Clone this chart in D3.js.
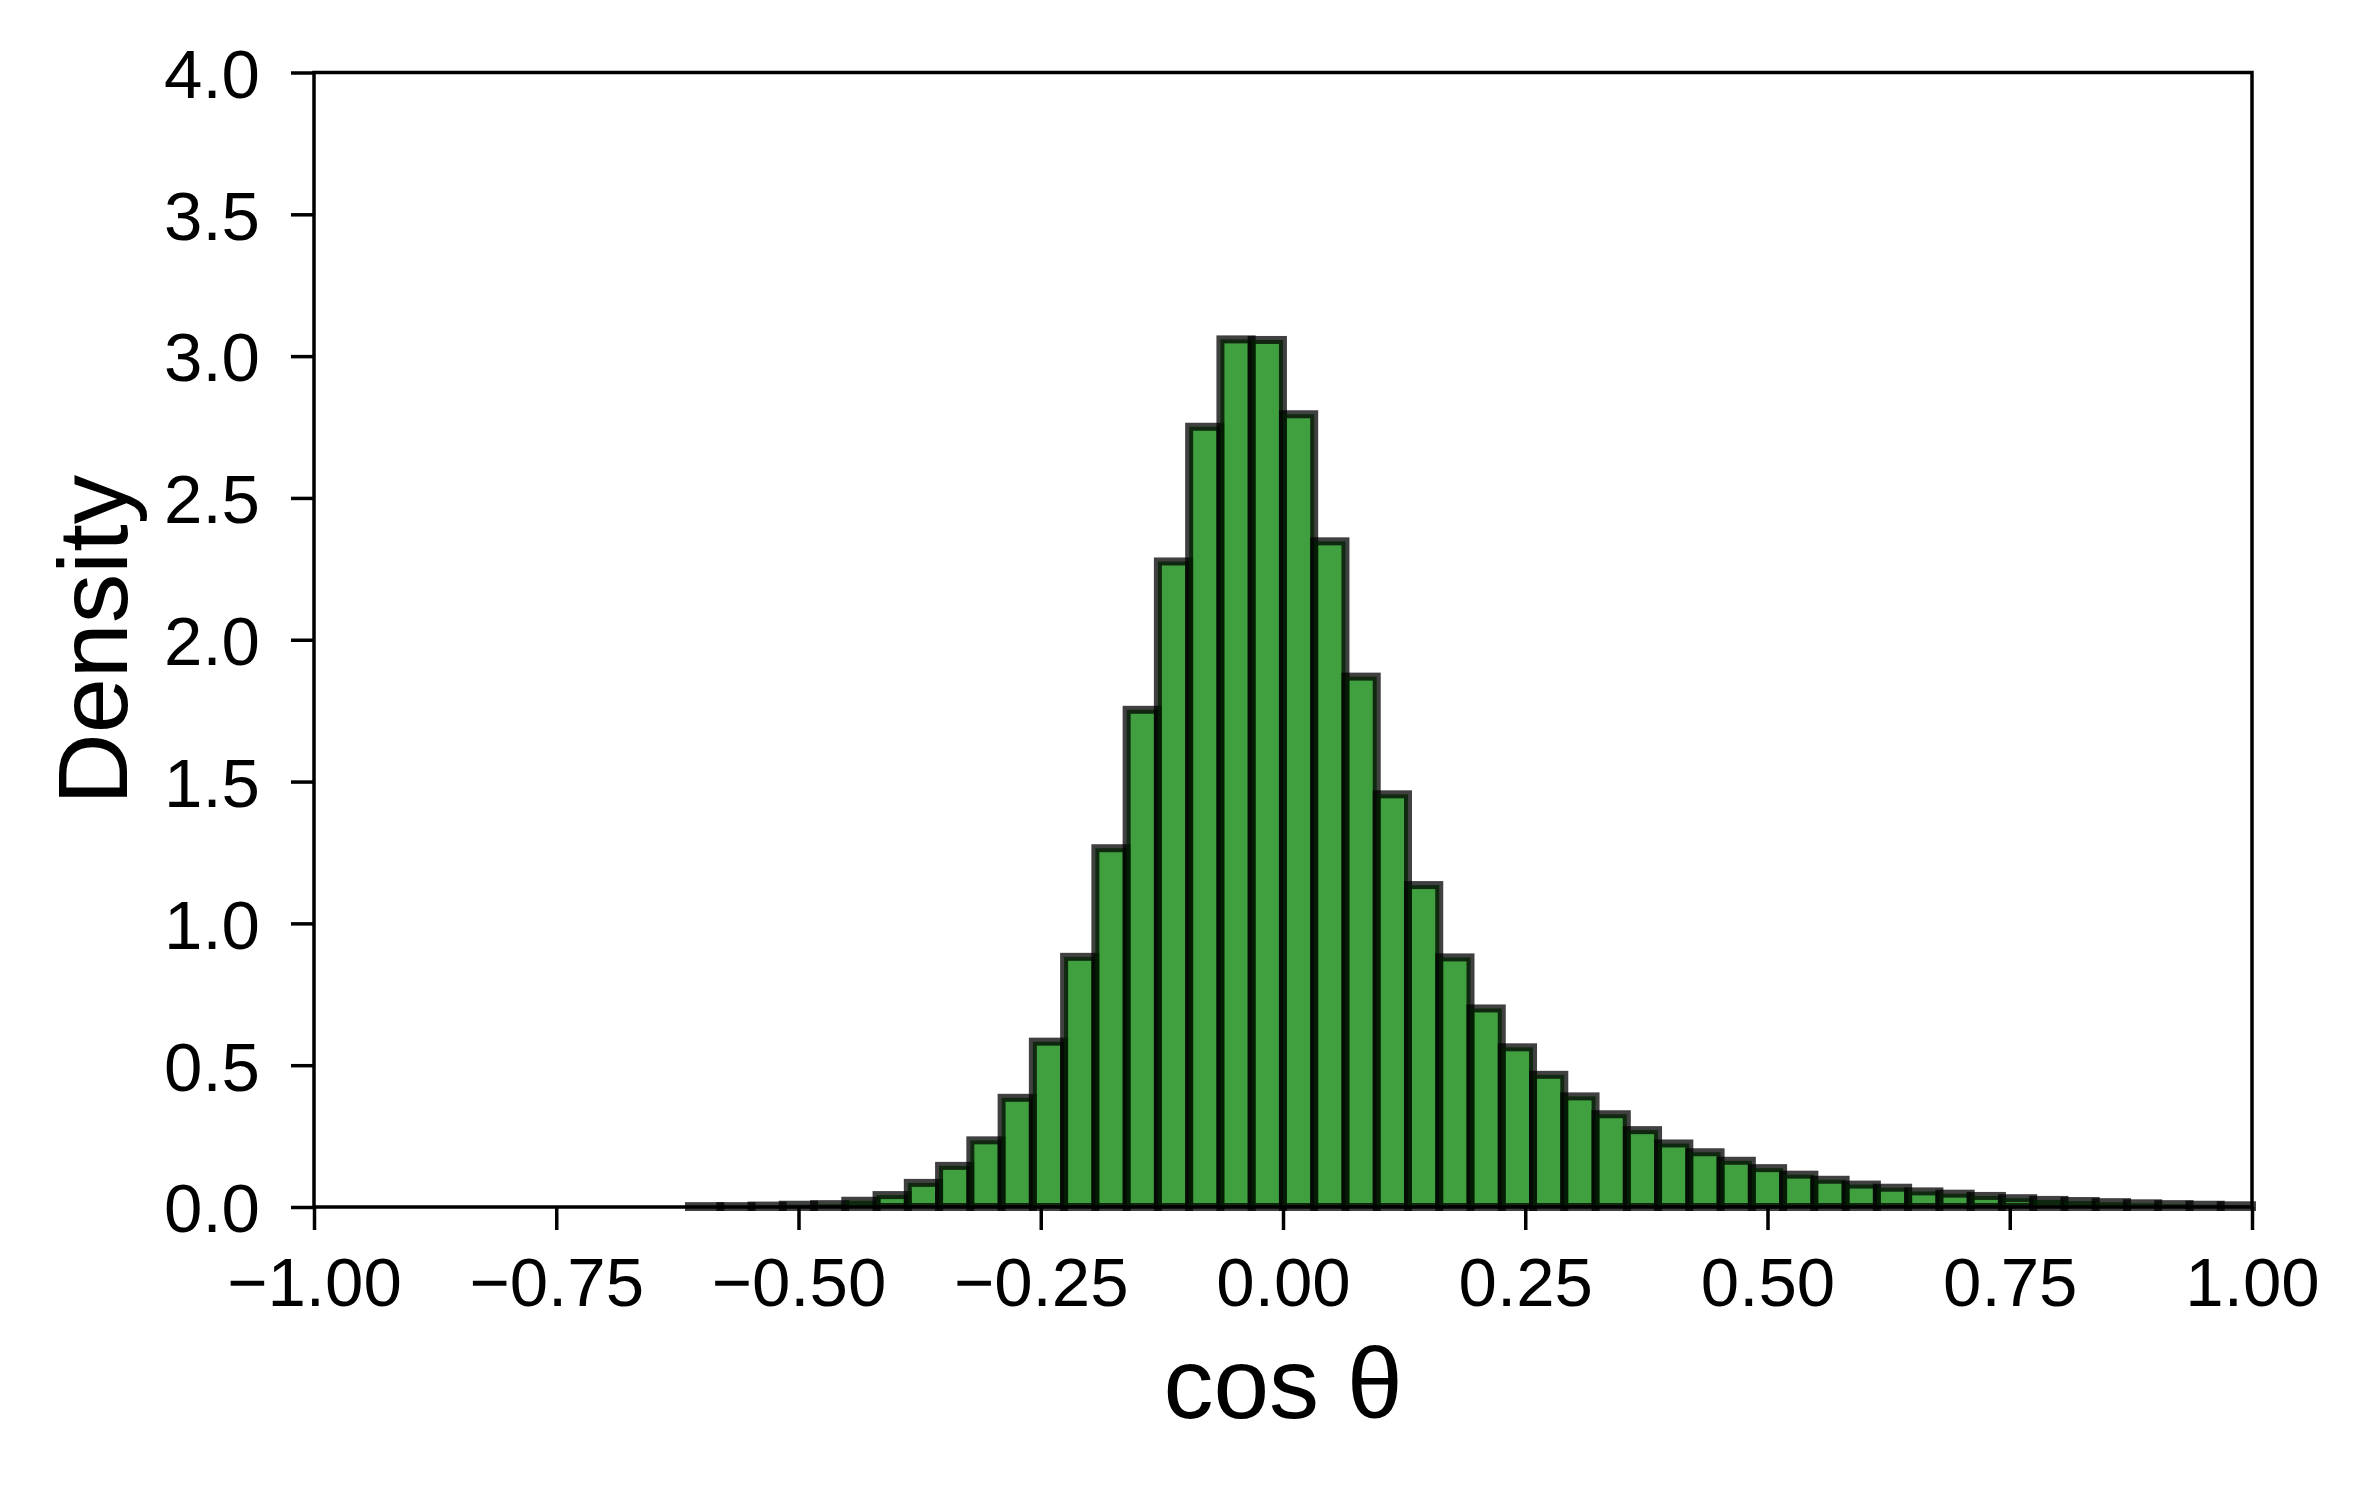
<!DOCTYPE html>
<html>
<head>
<meta charset="utf-8">
<script src="https://cdn.jsdelivr.net/npm/d3@7"></script>
<style>
  body { margin: 0; background: #fff; }
  text { font-family: "Liberation Sans", Arial, sans-serif; fill: #000; }
</style>
</head>
<body>
<div class="hist"></div>
<script>
// histogram of cos(theta), density normalised, 50 equal bins
var binLo = -0.613, binHi = 1.0;
var density = [
    0.003, 0.003, 0.005, 0.008, 0.010, 0.022, 0.042, 0.085, 0.145, 0.235,
    0.385, 0.583, 0.882, 1.265, 1.753, 2.276, 2.751, 3.059, 3.057, 2.795,
    2.347, 1.870, 1.455, 1.135, 0.880, 0.700, 0.563, 0.466, 0.390, 0.327,
    0.271, 0.224, 0.193, 0.163, 0.137, 0.114, 0.096, 0.079, 0.068, 0.055,
    0.047, 0.039, 0.031, 0.025, 0.021, 0.017, 0.013, 0.010, 0.008, 0.006
];
var xTicks = [-1.0, -0.75, -0.5, -0.25, 0.0, 0.25, 0.5, 0.75, 1.0];
var yTicks = [0.0, 0.5, 1.0, 1.5, 2.0, 2.5, 3.0, 3.5, 4.0];
var xLabel = "cos θ", yLabel = "Density";

hist_chart = function () {
    var margin = {
        top: 72.5,
        bottom: 279,
        left: 314,
        right: 116
    }, fullWidth = 2368, fullHeight = 1486
        , width = fullWidth - margin.left - margin.right
        , height = fullHeight - margin.top - margin.bottom;

    var svg = d3.select(".hist").append("svg")
        .attr("width", fullWidth)
        .attr("height", fullHeight);

    var x = d3.scaleLinear().domain([-1, 1]).range([0, width]);
    var y = d3.scaleLinear().domain([0, 4]).range([height, 0]);

    var n = density.length, step = (binHi - binLo) / n;
    var bins = density.map((d, i) => ({ x0: binLo + i * step, x1: binLo + (i + 1) * step, v: d }));

    const g = svg.append("g")
        .attr("transform", `translate(${margin.left},${margin.top})`);

    g.append("g")
        .selectAll("rect")
        .data(bins)
        .enter().append("rect")
        .attr("x", d => x(d.x0))
        .attr("y", d => y(d.v))
        .attr("width", d => x(d.x1) - x(d.x0))
        .attr("height", d => y(0) - y(d.v))
        .attr("fill", "green")
        .attr("fill-opacity", 0.75)
        .attr("stroke", "black")
        .attr("stroke-opacity", 0.75)
        .attr("stroke-width", 8);

    var xAxis = g.append("g")
        .attr("transform", `translate(0,${height})`)
        .call(d3.axisBottom(x).tickValues(xTicks).tickFormat(d3.format(".2f")).tickSize(23).tickSizeOuter(0));
    xAxis.selectAll("text")
        .attr("y", 99).attr("dy", 0)
        .style("font-size", "69px");

    var yAxis = g.append("g")
        .call(d3.axisLeft(y).tickValues(yTicks).tickFormat(d3.format(".1f")).tickSize(23).tickSizeOuter(0));
    yAxis.selectAll("text")
        .attr("x", -54).attr("dy", "0.36em")
        .style("font-size", "69px");

    g.selectAll(".tick line").attr("stroke", "black").attr("stroke-width", 3.5);
    g.selectAll(".domain").remove();

    // frame (all four spines)
    g.append("rect")
        .attr("x", 0).attr("y", 0)
        .attr("width", width).attr("height", height)
        .attr("fill", "none")
        .attr("stroke", "black")
        .attr("stroke-width", 3.5);

    g.append("text")
        .attr("x", width / 2)
        .attr("y", 1418 - margin.top)
        .attr("text-anchor", "middle")
        .style("font-size", "100px")
        .text(xLabel);

    g.append("text")
        .attr("transform", `translate(${126.7 - margin.left},${height / 2}) rotate(-90)`)
        .attr("text-anchor", "middle")
        .style("font-size", "99px")
        .text(yLabel);

    return svg
}

hist_chart();
</script>
</body>
</html>
